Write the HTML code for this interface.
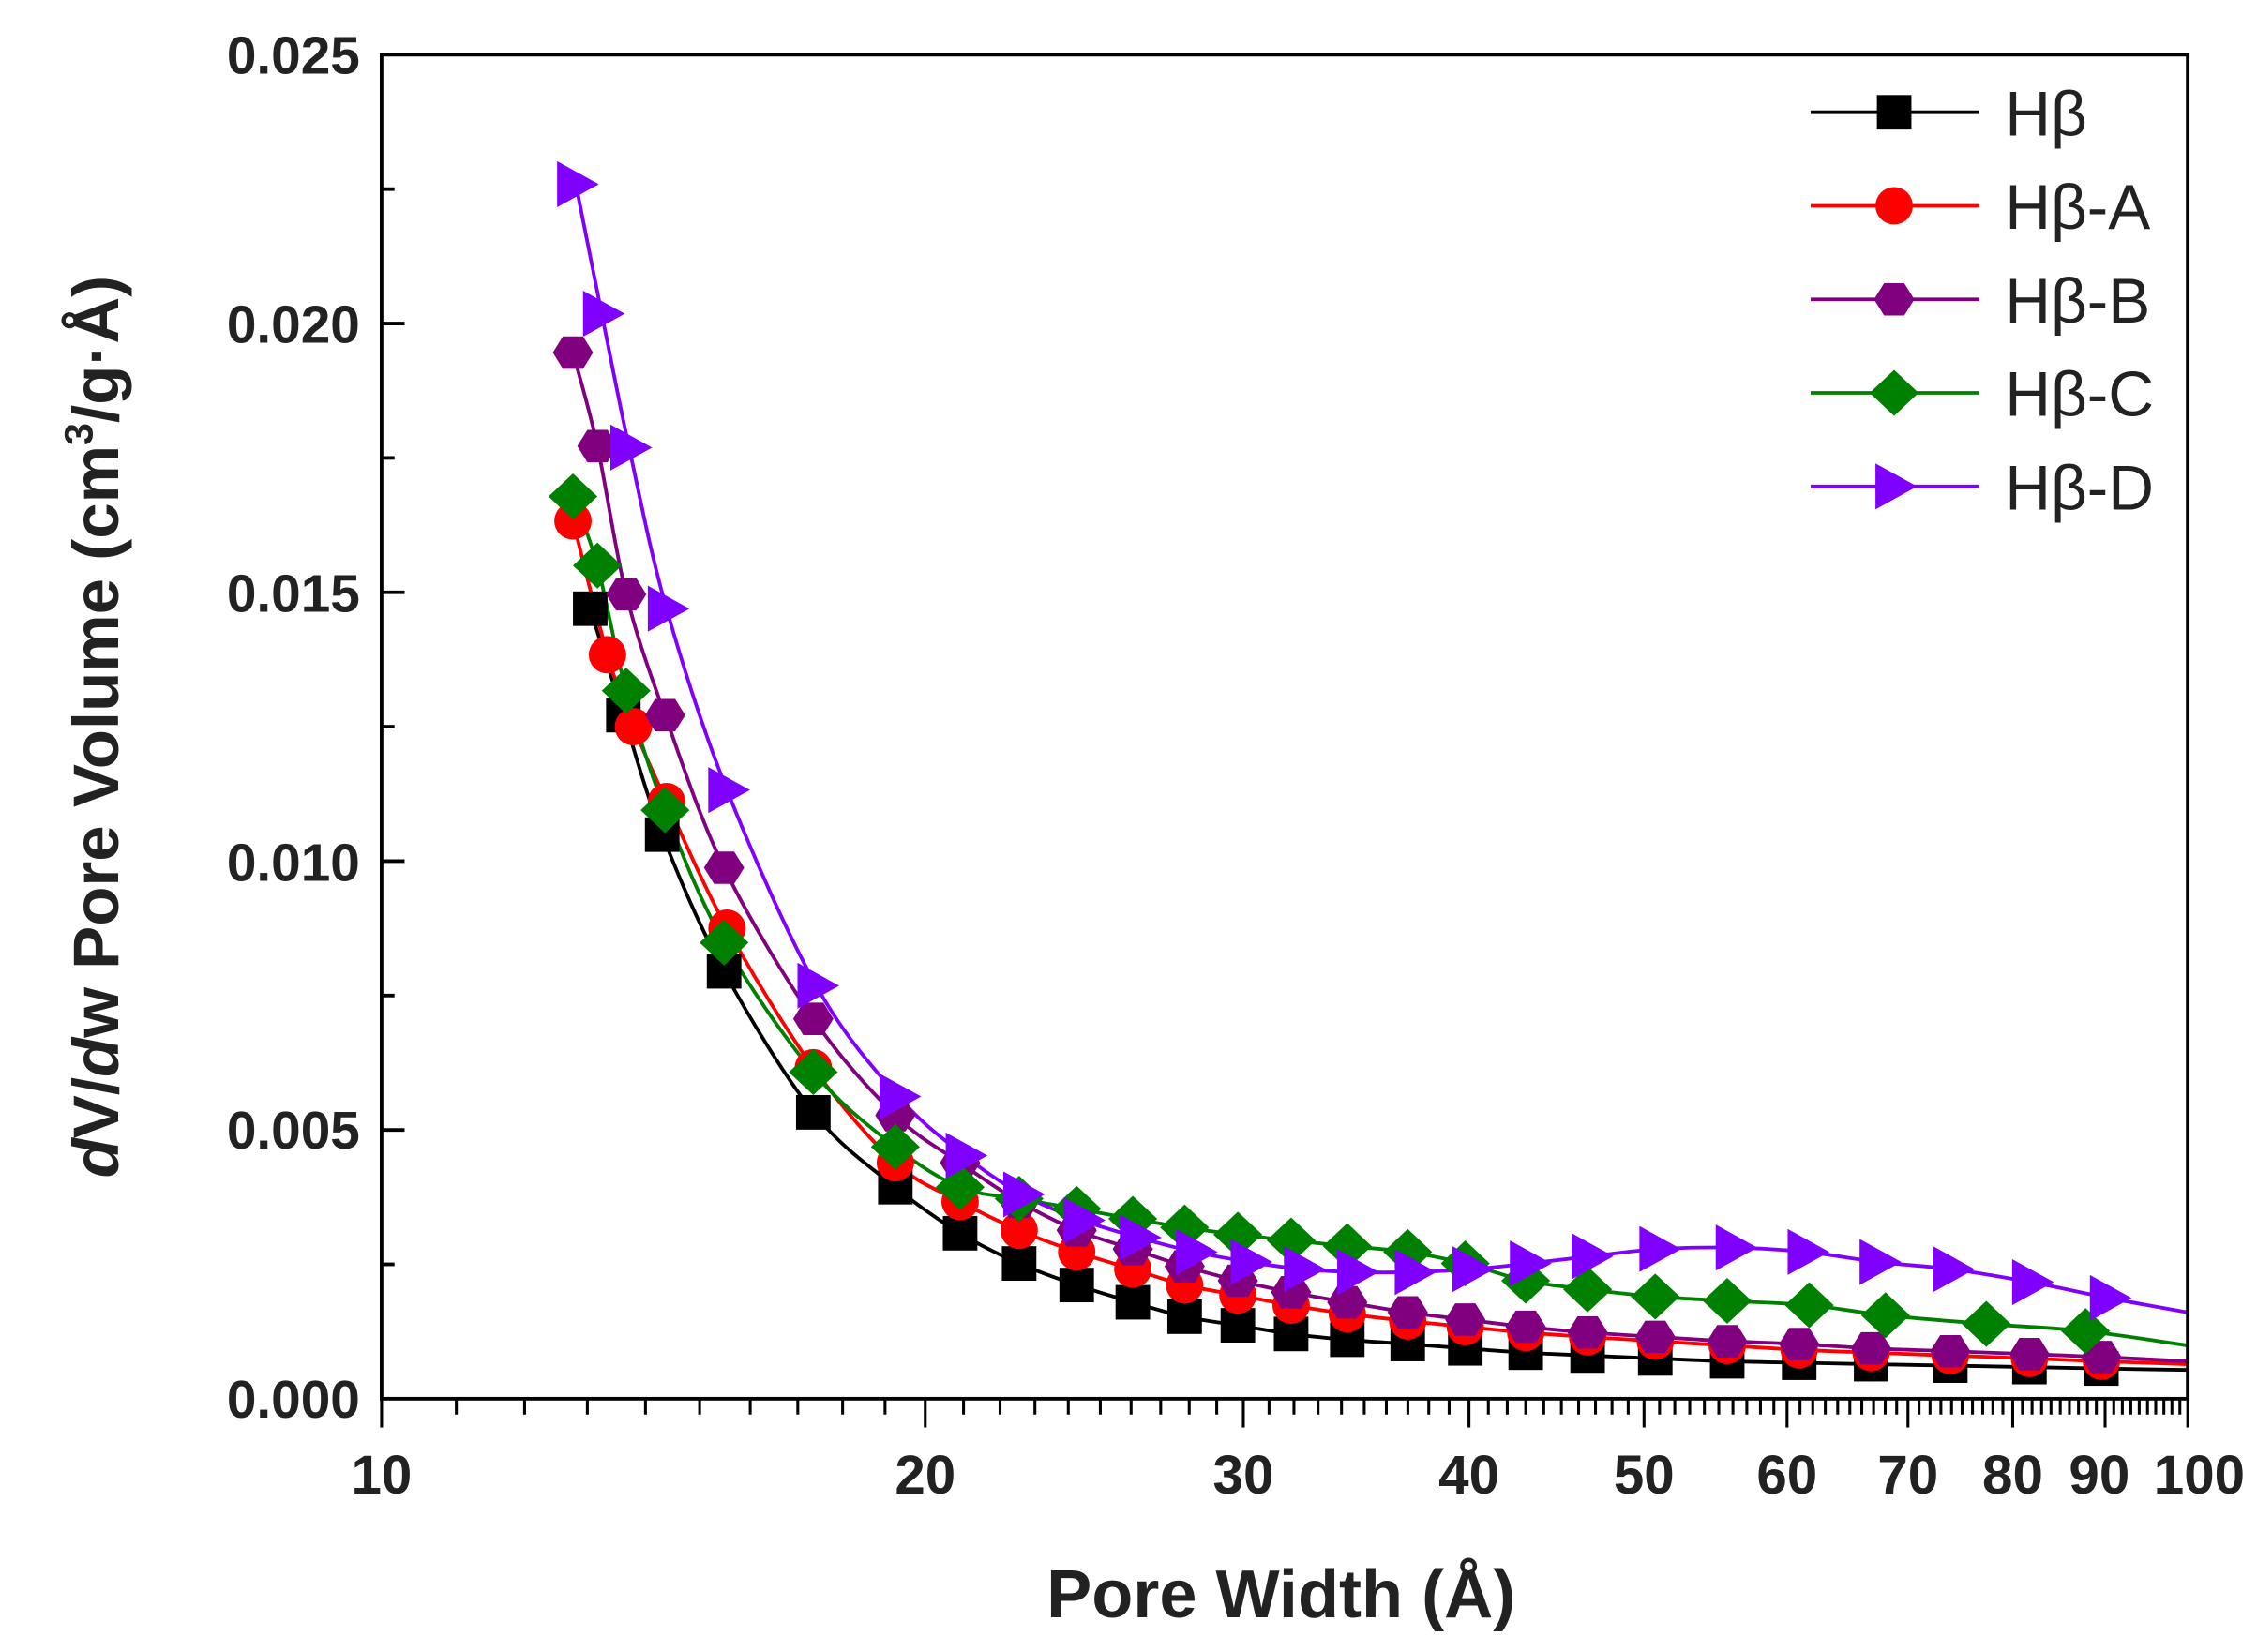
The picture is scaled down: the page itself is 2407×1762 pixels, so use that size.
<!DOCTYPE html>
<html><head><meta charset="utf-8"><style>
html,body{margin:0;padding:0;background:#fff;}
svg{display:block;}
text{font-family:"Liberation Sans",Arial,sans-serif;}
</style></head><body>
<svg id="s" width="2407" height="1762" viewBox="0 0 1568 1148" xmlns="http://www.w3.org/2000/svg">
<rect width="1568" height="1148" fill="#fff"/>
<g id="plot"></g>
<rect x="265" y="38" width="1255" height="934" fill="none" stroke="#000" stroke-width="2.5"/>
<g font-weight="bold" font-size="37" text-anchor="end" fill="#222">
<text x="250" y="51">0.025</text>
<text x="250" y="238">0.020</text>
<text x="250" y="425">0.015</text>
<text x="250" y="612">0.010</text>
<text x="250" y="798">0.005</text>
<text x="250" y="985">0.000</text>
</g>
<g font-weight="bold" font-size="38" text-anchor="middle" fill="#222" id="xl"></g>
<text x="890" y="1124" font-weight="bold" font-size="47" text-anchor="middle" fill="#222">Pore Width (Å)</text>
<text transform="translate(82,505) rotate(-90)" font-weight="bold" font-size="45" text-anchor="middle" fill="#222"><tspan font-style="italic">d</tspan>V/<tspan font-style="italic">d</tspan>w Pore Volume (cm<tspan font-size="28" dy="-18">3</tspan><tspan dy="18">/g·Å)</tspan></text>
<g id="leg" font-size="44" fill="#222"></g>
</svg>
<script>
var NS="http://www.w3.org/2000/svg";
function el(t,a,p){var e=document.createElementNS(NS,t);for(var k in a)e.setAttribute(k,a[k]);p.appendChild(e);return e;}
var svg=document.getElementById('s'),plot=document.getElementById('plot');
var L=265,R=1520,T=38,B=972;
function xp(v){return L+(Math.log10(v)-1)*1255;}
for(var i=1;i<10;i++){var y=B-i*93.4;el('line',{x1:L,x2:L+(i%2==0?16:9),y1:y,y2:y,stroke:'#000','stroke-width':2.5},svg);}
for(var v=10;v<=100;v++){var x=xp(v),maj=(v%10==0);el('line',{x1:x,x2:x,y1:B,y2:B+(maj?20:11),stroke:'#000','stroke-width':2},svg);}
var xl=document.getElementById('xl');
[10,20,30,40,50,60,70,80].forEach(function(v){var t=el('text',{x:xp(v),y:1038},xl);t.textContent=v;});
var t=el('text',{x:xp(90)-4,y:1038},xl);t.textContent='90';
t=el('text',{x:xp(100)+8,y:1038},xl);t.textContent='100';
var series=[
{c:'#000',m:'sq',pts:[[410,423],[433,497],[460,580],[503,675],[565,773],[622,825],[667,857],[708,878],[748,893],[787,905],[823,915],[860,921],[897,927],[936,931],[978,934],[1018,937],[1060,940],[1103,942],[1150,944],[1200,946],[1250,947],[1300,948],[1355,949],[1410,950],[1460,951],[1520,952]]},
{c:'#ff0000',m:'ci',pts:[[398,362],[422,455],[440,505],[463,557],[505,645],[565,742],[622,808],[667,835],[708,855],[748,870],[787,882],[823,893],[860,900],[897,907],[936,913],[978,918],[1018,922],[1060,926],[1103,929],[1150,932],[1200,935],[1250,938],[1300,940],[1355,942],[1410,944],[1460,946],[1520,948]]},
{c:'#800080',m:'hx',pts:[[398,245],[415,310],[435,413],[462,497],[503,603],[565,708],[622,775],[667,808],[708,835],[748,855],[787,868],[823,880],[860,890],[897,898],[936,905],[978,912],[1018,917],[1060,922],[1103,926],[1150,929],[1200,932],[1250,934],[1300,937],[1355,939],[1410,941],[1460,943],[1520,946]]},
{c:'#008000',m:'di',pts:[[398,345],[415,393],[435,480],[462,563],[503,655],[565,745],[622,797],[667,825],[708,833],[748,840],[787,847],[823,853],[860,858],[897,862],[936,866],[978,870],[1018,878],[1060,890],[1103,896],[1150,901],[1200,904],[1257,907],[1310,914],[1380,920],[1449,925],[1520,935]]},
{c:'#8000ff',m:'tr',pts:[[400,128],[418,218],[437,311],[463,423],[505,549],[567,685],[624,762],[670,803],[710,830],[752,848],[791,860],[830,870],[868,877],[905,882],[942,884],[982,884],[1022,882],[1062,878],[1105,873],[1152,868],[1205,867],[1255,870],[1305,877],[1356,882],[1411,891],[1465,902],[1520,912]]}
];
function curve(p){var d='M'+p[0][0]+','+p[0][1];for(var i=0;i<p.length-1;i++){var p0=p[i-1]||p[i],p1=p[i],p2=p[i+1],p3=p[i+2]||p2;
d+=' C'+(p1[0]+(p2[0]-p0[0])/6)+','+(p1[1]+(p2[1]-p0[1])/6)+' '+(p2[0]-(p3[0]-p1[0])/6)+','+(p2[1]-(p3[1]-p1[1])/6)+' '+p2[0]+','+p2[1];}return d;}
function marker(m,x,y,c,g){var s=12;
if(m=='sq')el('rect',{x:x-s,y:y-s,width:2*s,height:2*s,fill:c},g);
else if(m=='ci')el('circle',{cx:x,cy:y,r:13,fill:c},g);
else if(m=='hx'){var p=[];for(var k=0;k<6;k++){var a=Math.PI/3*k;p.push((x+14*Math.cos(a))+','+(y+13*Math.sin(a)));}el('polygon',{points:p.join(' '),fill:c},g);}
else if(m=='di')el('polygon',{points:x+','+(y-16)+' '+(x+17)+','+y+' '+x+','+(y+16)+' '+(x-17)+','+y,fill:c},g);
else el('polygon',{points:(x-13)+','+(y-16)+' '+(x+16)+','+y+' '+(x-13)+','+(y+16),fill:c},g);}
series.forEach(function(s){el('path',{d:curve(s.pts),fill:'none',stroke:s.c,'stroke-width':2.5},plot);});
series.forEach(function(s){s.pts.forEach(function(p){if(p[0]<=1512)marker(s.m,p[0],p[1],s.c,plot);});});
var leg=document.getElementById('leg'),names=['Hβ','Hβ-A','Hβ-B','Hβ-C','Hβ-D'];
series.forEach(function(s,i){var y=78+i*65;el('line',{x1:1258,x2:1375,y1:y,y2:y,stroke:s.c,'stroke-width':2.5},leg);marker(s.m,1316,y,s.c,leg);var t=el('text',{x:1393,y:y+16},leg);t.textContent=names[i];});
</script>
</body></html>
